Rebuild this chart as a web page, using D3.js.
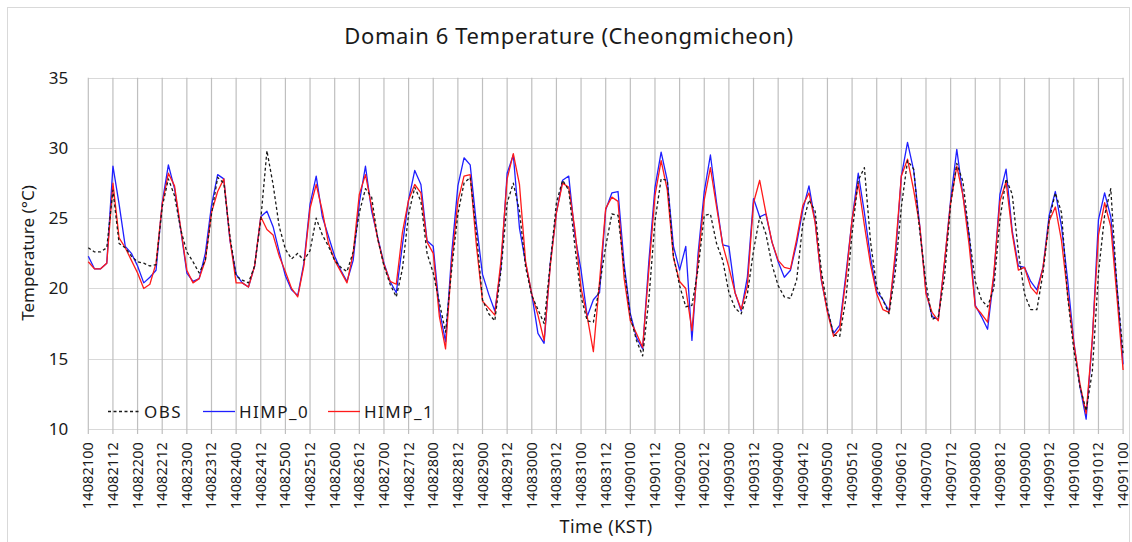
<!DOCTYPE html>
<html>
<head>
<meta charset="utf-8">
<script src="https://cdn.jsdelivr.net/npm/d3@7"></script>
<style>
  body { margin: 0; background: #fff; }
  text { font-family: "Noto Sans", "Open Sans", sans-serif; fill: #1a1a1a; }
</style>
</head>
<body>
<script>
'use strict';

// tick labels on the category axis (yymmddhh, every 12 h)
const categories = [
  "14082100", "14082112", "14082200", "14082212", "14082300", "14082312",
  "14082400", "14082412", "14082500", "14082512", "14082600", "14082612",
  "14082700", "14082712", "14082800", "14082812", "14082900", "14082912",
  "14083000", "14083012", "14083100", "14083112", "14090100", "14090112",
  "14090200", "14090212", "14090300", "14090312", "14090400", "14090412",
  "14090500", "14090512", "14090600", "14090612", "14090700", "14090712",
  "14090800", "14090812", "14090900", "14090912", "14091000", "14091012",
  "14091100"
];

const yTicks = [10, 15, 20, 25, 30, 35];
const hourStep = 3; // values below are read every 3 hours, 8 per day

// observed temperature (°C)
const obsTemp = [
  22.9, 22.6, 22.6, 22.9, 27.0, 23.2, 22.9, 22.3,
  21.9, 21.8, 21.6, 21.7, 25.8, 27.8, 26.6, 24.2,
  22.6, 21.9, 21.1, 22.0, 25.3, 27.9, 27.5, 23.7,
  20.9, 20.6, 20.4, 21.6, 24.9, 29.8, 27.4, 24.4,
  22.8, 22.1, 22.5, 22.0, 22.7, 25.0, 23.8, 23.0,
  22.0, 21.5, 21.2, 22.6, 25.4, 27.1, 26.5, 23.5,
  21.6, 20.3, 19.4, 21.4, 25.3, 27.2, 26.2, 22.5,
  21.1, 19.0, 16.9, 21.4, 25.3, 27.5, 27.9, 24.0,
  19.2, 18.2, 17.7, 21.3, 26.1, 27.5, 25.5, 21.5,
  19.5, 18.5, 17.5, 21.8, 26.1, 27.7, 27.0, 23.0,
  19.4, 17.7, 17.6, 20.2, 23.0, 25.3, 25.2, 21.4,
  18.0, 16.3, 15.2, 19.2, 24.8, 27.8, 27.7, 22.3,
  20.2, 18.7, 18.8, 21.4, 25.2, 25.3, 23.2, 22.0,
  19.7, 18.6, 18.2, 19.6, 22.7, 25.1, 23.9, 21.7,
  20.2, 19.4, 19.3, 20.6, 24.6, 26.3, 25.5, 21.3,
  18.6, 16.7, 16.6, 19.3, 23.9, 27.7, 28.6, 23.3,
  20.1, 19.2, 18.2, 21.1, 25.8, 29.1, 28.5, 24.0,
  20.4, 17.8, 18.0, 20.8, 26.0, 28.9, 27.6, 23.8,
  20.5, 19.2, 18.7, 20.0, 24.9, 27.8, 26.7, 22.6,
  19.6, 18.5, 18.5, 21.1, 24.9, 26.8, 25.4, 19.4,
  15.6, 13.0, 11.3, 14.1, 21.1, 25.2, 27.1, 20.1,
  15.4
];

// HIMP_0 model temperature (°C)
const himp0Temp = [
  22.3, 21.4, 21.4, 21.8, 28.7, 26.0, 23.0, 22.5,
  21.6, 20.4, 20.8, 21.3, 26.1, 28.8, 27.1, 24.2,
  21.1, 20.5, 20.7, 22.5, 25.9, 28.1, 27.8, 23.4,
  21.0, 20.4, 20.1, 21.6, 25.1, 25.5, 24.4, 22.6,
  20.9, 19.9, 19.5, 21.8, 26.0, 28.0, 25.1, 23.7,
  22.3, 21.3, 20.5, 22.0, 26.1, 28.7, 25.5, 23.6,
  21.8, 20.5, 19.7, 23.1, 26.3, 28.4, 27.4, 23.4,
  23.0, 18.5, 16.2, 22.5, 27.3, 29.3, 28.8, 24.6,
  21.0, 19.6, 18.4, 21.5, 28.2, 29.5, 24.3, 21.8,
  19.6, 16.8, 16.1, 21.8, 25.4, 27.7, 28.0, 23.8,
  21.3, 18.0, 19.2, 19.7, 25.6, 26.8, 26.9, 21.7,
  18.2, 16.5, 15.7, 21.9, 27.2, 29.7, 27.7, 23.0,
  21.3, 23.0, 16.3, 22.5, 26.9, 29.5, 26.1, 23.1,
  23.0, 19.7, 18.4, 20.8, 26.4, 25.1, 25.3, 23.3,
  21.9, 20.8, 21.3, 23.2, 25.6, 27.3, 24.8, 20.6,
  18.4, 16.8, 17.4, 21.0, 24.9, 28.2, 25.4, 22.2,
  19.8, 19.2, 18.4, 22.0, 28.0, 30.4, 28.4, 24.4,
  19.8, 18.0, 17.8, 21.8, 26.3, 29.9, 26.6, 23.8,
  18.8, 18.0, 17.1, 20.8, 26.7, 28.5, 24.1, 21.6,
  21.5, 20.5, 19.9, 21.5, 25.2, 26.9, 24.4, 20.6,
  16.2, 13.0, 10.7, 16.3, 24.9, 26.8, 25.1, 20.2,
  14.6
];

// HIMP_1 model temperature (°C)
const himp1Temp = [
  21.9, 21.4, 21.4, 21.8, 27.5, 23.6, 22.9, 22.0,
  21.1, 20.0, 20.3, 21.8, 26.0, 28.2, 27.3, 24.3,
  21.3, 20.4, 20.7, 22.0, 25.4, 26.9, 27.8, 23.5,
  20.4, 20.4, 20.1, 21.6, 25.1, 24.2, 23.8, 22.3,
  21.2, 20.0, 19.4, 21.6, 25.7, 27.4, 25.5, 23.2,
  22.0, 21.2, 20.4, 22.5, 26.7, 28.1, 25.8, 23.5,
  21.7, 20.5, 20.3, 24.0, 26.3, 27.4, 26.8, 23.3,
  22.5, 18.0, 15.7, 21.9, 26.2, 28.0, 28.1, 23.1,
  19.1, 18.6, 18.1, 22.0, 27.8, 29.6, 27.4, 21.9,
  19.6, 18.1, 16.3, 21.6, 25.4, 27.5, 27.2, 24.2,
  20.0, 18.0, 15.5, 20.5, 25.7, 26.5, 26.2, 20.7,
  17.7, 16.8, 15.8, 21.3, 26.6, 29.1, 27.0, 22.2,
  20.5, 20.0, 17.0, 22.0, 26.3, 28.6, 25.8, 23.1,
  21.5, 19.7, 18.5, 20.2, 26.1, 27.7, 25.4, 23.3,
  22.0, 21.5, 21.4, 23.5, 25.9, 26.8, 24.7, 20.7,
  18.3, 16.6, 17.1, 20.7, 24.9, 27.5, 24.5, 21.7,
  19.6, 18.5, 18.3, 22.5, 28.0, 29.2, 27.0, 24.4,
  19.6, 18.3, 17.7, 21.9, 26.1, 28.7, 26.6, 23.1,
  18.7, 18.2, 17.6, 21.0, 26.2, 27.6, 23.9, 21.3,
  21.5, 20.1, 19.6, 21.5, 24.8, 25.8, 23.4, 19.6,
  16.1, 13.2, 11.1, 16.4, 23.8, 26.1, 24.4, 19.4,
  14.2
];

(function() {

  let svgContainer = "";
  let xScale = "";
  let yScale = "";

  window.onload = function() {
    svgContainer = d3.select('body')
      .append('svg')
      .attr('width', 1132)
      .attr('height', 542);

    // chart frame
    svgContainer.append('rect')
      .attr('x', 7.5)
      .attr('y', 7.5)
      .attr('width', 1122)
      .attr('height', 580)
      .attr('fill', '#fff')
      .attr('stroke', '#d9d9d9');

    drawAxes();
    plotData();
    makeLegend();
    makeLabels();
  }

  // gridlines, axes and tick labels
  function drawAxes() {
    const lastHour = (categories.length - 1) * 12;

    xScale = d3.scaleLinear()
      .domain([0, lastHour])
      .range([88.3, 1123.1]);

    yScale = d3.scaleLinear()
      .domain([10, 35])
      .range([429, 77.7]);

    // horizontal gridlines
    svgContainer.append('g')
      .selectAll('line')
      .data(yTicks)
      .enter()
      .append('line')
        .attr('x1', xScale(0))
        .attr('x2', xScale(lastHour))
        .attr('y1', (d) => Math.round(yScale(d)) + 0.5)
        .attr('y2', (d) => Math.round(yScale(d)) + 0.5)
        .attr('stroke', '#d9d9d9')
        .attr('stroke-width', 1);

    // vertical gridlines (one per category label), extending as tick marks
    svgContainer.append('g')
      .selectAll('line')
      .data(categories)
      .enter()
      .append('line')
        .attr('x1', (d, i) => xScale(i * 12))
        .attr('x2', (d, i) => xScale(i * 12))
        .attr('y1', yScale(35))
        .attr('y2', yScale(10) + 5)
        .attr('stroke', '#bfbfbf')
        .attr('stroke-width', 1.2);

    // y tick labels
    const yAxis = d3.axisLeft(yScale)
      .tickValues(yTicks)
      .tickSize(0)
      .tickPadding(20);
    const gy = svgContainer.append('g')
      .attr('transform', 'translate(' + xScale(0) + ', 0)')
      .call(yAxis);
    gy.select('.domain').remove();
    gy.selectAll('text')
      .style('font-family', '"Noto Sans", sans-serif')
      .style('font-size', '17px')
      .attr('fill', '#1a1a1a');

    // x tick labels, rotated
    svgContainer.append('g')
      .selectAll('text')
      .data(categories)
      .enter()
      .append('text')
        .attr('transform', (d, i) =>
          'translate(' + (xScale(i * 12) + 5) + ', 442)rotate(-90)')
        .attr('text-anchor', 'end')
        .style('font-size', '14.5px')
        .style('letter-spacing', '0.1px')
        .text((d) => d);
  }

  // draw the three series
  function plotData() {
    const series = [
      { values: himp0Temp, color: '#1f1fff', dash: null, width: 1.3 },
      { values: himp1Temp, color: '#ff1a1a', dash: null, width: 1.3 },
      { values: obsTemp, color: '#1a1a1a', dash: '3,2.5', width: 1.3 }
    ];

    const line = d3.line()
      .x((d, i) => xScale(i * hourStep))
      .y((d) => yScale(d));

    series.forEach((s) => {
      svgContainer.append('path')
        .datum(s.values)
        .attr('d', line)
        .attr('fill', 'none')
        .attr('stroke', s.color)
        .attr('stroke-width', s.width)
        .attr('stroke-linejoin', 'round')
        .attr('stroke-dasharray', s.dash);
    });
  }

  // legend inside the plot, lower left
  function makeLegend() {
    const items = [
      { name: 'OBS', color: '#1a1a1a', dash: '3,2.5', x: 108 },
      { name: 'HIMP_0', color: '#1f1fff', dash: null, x: 203 },
      { name: 'HIMP_1', color: '#ff1a1a', dash: null, x: 328 }
    ];
    const legend = svgContainer.append('g');
    items.forEach((it) => {
      legend.append('line')
        .attr('x1', it.x)
        .attr('x2', it.x + 32)
        .attr('y1', 411.5)
        .attr('y2', 411.5)
        .attr('stroke', it.color)
        .attr('stroke-width', 1.3)
        .attr('stroke-dasharray', it.dash);
      legend.append('text')
        .attr('x', it.x + 36)
        .attr('y', 418)
        .style('font-size', '17px')
        .style('letter-spacing', '1.5px')
        .text(it.name);
    });
  }

  // title and axis titles
  function makeLabels() {
    svgContainer.append('text')
      .attr('x', 569)
      .attr('y', 44)
      .attr('text-anchor', 'middle')
      .style('font-size', '22px')
      .style('letter-spacing', '0.6px')
      .text('Domain 6 Temperature (Cheongmicheon)');

    svgContainer.append('text')
      .attr('x', 606)
      .attr('y', 533)
      .attr('text-anchor', 'middle')
      .style('font-size', '18px')
      .style('letter-spacing', '0.5px')
      .text('Time  (KST)');

    svgContainer.append('text')
      .attr('transform', 'translate(34, 253)rotate(-90)')
      .attr('text-anchor', 'middle')
      .style('font-size', '17px')
      .text('Temperature  (°C)');
  }

})();
</script>
</body>
</html>
